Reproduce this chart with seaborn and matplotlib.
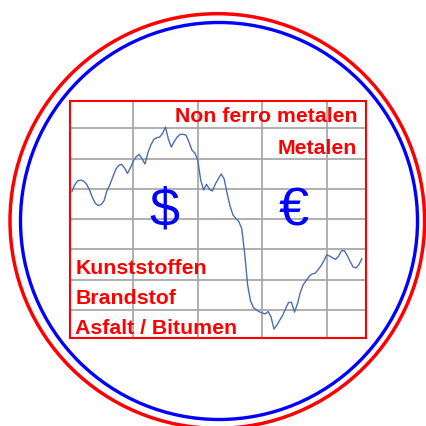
import numpy as np
import pandas as pd
import seaborn as sns
import matplotlib.pyplot as plt
from matplotlib.patches import Circle

koers = [79.0, 81.3, 82.6, 82.9, 82.6, 81.6, 79.8, 77.3, 75.3, 74.5,
         74.8, 76.0, 79.3, 81.3, 83.9, 86.4, 87.7, 88.1, 86.9, 85.1,
         86.9, 89.2, 90.6, 91.4, 89.9, 88.2, 91.9, 94.5, 96.3, 96.9,
         97.1, 98.3, 100.4, 96.3, 93.8, 95.7, 97.1, 98.0, 98.0, 97.7,
         95.5, 92.8, 91.8, 89.5, 82.9, 79.6, 81.5, 79.8, 79.3, 81.6,
         83.3, 84.9, 83.3, 78.6, 74.4, 71.4, 70.2, 69.2, 66.9, 58.8,
         48.3, 43.0, 40.8, 40.0, 39.4, 39.0, 38.7, 39.5, 37.7, 33.7,
         35.0, 36.7, 38.3, 40.5, 42.5, 42.5, 39.3, 42.0, 45.9, 48.4,
         49.7, 51.1, 51.9, 52.1, 53.2, 54.5, 56.2, 58.2, 57.8, 57.2,
         56.7, 57.7, 59.5, 59.6, 58.0, 56.0, 54.2, 53.9, 55.0, 57.0]
dagen = np.arange(1, len(koers) + 1)

labels_rechts = ['Non ferro metalen', 'Metalen']
labels_links = ['Kunststoffen', 'Brandstof', 'Asfalt / Bitumen']
valuta = ['$', '€']

df = pd.DataFrame({'dag': dagen, 'koers': koers})

sns.set_theme(style='white')
plt.rcParams['font.family'] = ['Liberation Sans', 'DejaVu Sans']

fig = plt.figure(figsize=(4.26, 4.26), dpi=100)

# achtergrond met de twee cirkels (pixelcoordinaten)
bg = fig.add_axes([0, 0, 1, 1])
bg.set_xlim(0, 426)
bg.set_ylim(426, 0)
bg.axis('off')
bg.add_patch(Circle((217.3, 221), 207.3, fill=False, ec='#ff0000', lw=2.5))
bg.add_patch(Circle((219, 221), 198.5, fill=False, ec='#0000ff', lw=2.4))

# grafiek
ax = fig.add_axes([69.5 / 426, 1 - 337.7 / 426, 296.5 / 426, 237 / 426])
sns.lineplot(data=df, x='dag', y='koers', ax=ax, color='#4a6db3', lw=1.0)
ax.set_xlim(0.24, 101.4)
ax.set_ylim(30.85, 109.1)
ax.set_xticks([22, 44, 66, 88])
ax.set_yticks([40, 50, 60, 70, 80, 90, 100])
ax.set_xticklabels([])
ax.set_yticklabels([])
ax.tick_params(length=0)
ax.set_xlabel('')
ax.set_ylabel('')
ax.grid(True, color='#a9a9a9', lw=1.3)
ax.set_axisbelow(True)
for s in ax.spines.values():
    s.set_visible(True)
    s.set_color('#ff0000')
    s.set_linewidth(1.5)

for tekst, y in zip(labels_rechts, [0.910, 0.775]):
    ax.text(0.971, y, tekst, transform=ax.transAxes, ha='right', va='baseline',
            color='#ff0000', fontsize=15.3, fontweight='bold')
for tekst, y in zip(labels_links, [0.2688, 0.1422, 0.0156]):
    ax.text(0.019, y, tekst, transform=ax.transAxes, ha='left', va='baseline',
            color='#ff0000', fontsize=15.3, fontweight='bold')
for tekst, x in zip(valuta, [0.319, 0.756]):
    ax.text(x, 0.475, tekst, transform=ax.transAxes, ha='center', va='baseline',
            color='#0000ff', fontsize=39)

fig.savefig('out.png', dpi=100)
